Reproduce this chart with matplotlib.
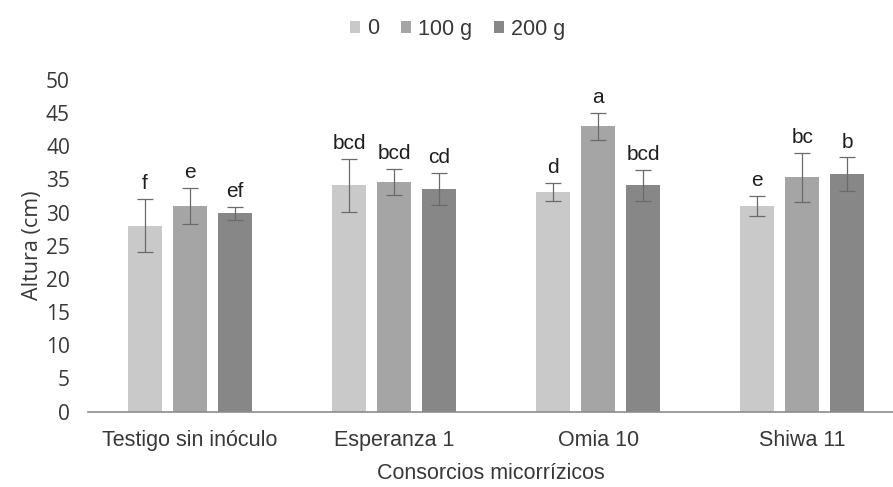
import matplotlib
matplotlib.use('Agg')
import matplotlib.pyplot as plt
import numpy as np

# data
categories = ['Testigo sin inóculo', 'Esperanza 1', 'Omia 10', 'Shiwa 11']
doses = ['0', '100 g', '200 g']
altura = [
    [28.0, 34.1, 33.1, 31.0],   # 0
    [31.0, 34.6, 43.0, 35.3],   # 100 g
    [29.9, 33.5, 34.1, 35.8],   # 200 g
]
err = [
    [4.0, 4.0, 1.4, 1.5],
    [2.7, 1.9, 2.0, 3.7],
    [1.0, 2.4, 2.3, 2.5],
]
letters = [
    ['f', 'bcd', 'd', 'e'],
    ['e', 'bcd', 'a', 'bc'],
    ['ef', 'cd', 'bcd', 'b'],
]

colors = ['#c9c9c9', '#a5a5a5', '#878787']
txt = '#383838'
arial = ['Liberation Sans', 'DejaVu Sans']
calibri = ['Open Sans', 'DejaVu Sans']

fig = plt.figure(figsize=(8.93, 4.87), dpi=100)
ax = fig.add_axes([88 / 893, 0.155, 1 - 88 / 893, 0.681])

x = np.arange(len(categories))
width = 0.167
step = 0.221

for i in range(len(doses)):
    pos = x + (i - 1) * step
    ax.bar(pos, altura[i], width, color=colors[i], label=doses[i], zorder=2)
    ax.errorbar(pos, altura[i], yerr=err[i], fmt='none', ecolor='#6a6a6a',
                elinewidth=0.9, capsize=5.5, capthick=0.9, zorder=3)
    for p, h, e, l in zip(pos, altura[i], err[i], letters[i]):
        ax.text(p, h + e + 0.9, l, ha='center', va='bottom', fontsize=15,
                family=arial, color='#1e1e1e')

ax.set_xlim(-0.5, 3.445)
ax.set_ylim(0, 50)
ax.set_yticks(np.arange(0, 51, 5))
ax.set_xticks(x)
ax.set_xticklabels(categories, family=arial, fontsize=15.5, color=txt)
ax.set_yticklabels([str(v) for v in range(0, 51, 5)], family=calibri,
                   fontsize=15, color=txt)
ax.tick_params(axis='both', length=0)
ax.tick_params(axis='y', pad=13)
ax.tick_params(axis='x', pad=13)

for s in ['top', 'right', 'left']:
    ax.spines[s].set_visible(False)
ax.spines['bottom'].set_color('#8c8c8c')
ax.spines['bottom'].set_linewidth(1.2)

ax.set_ylabel('Altura (cm)', fontsize=15.5, family=calibri, color=txt,
              labelpad=2)
ax.set_xlabel('Consorcios micorrízicos', fontsize=15.5, family=arial,
              color=txt, labelpad=9)

fig.legend(loc='center', bbox_to_anchor=(458 / 893, 1 - 29 / 487), ncol=3,
           frameon=False, prop={'family': arial, 'size': 15.5},
           handlelength=0.45, handleheight=0.45,
           handletextpad=0.35, columnspacing=1.0, labelcolor=txt)

fig.savefig('out.png', dpi=100)
